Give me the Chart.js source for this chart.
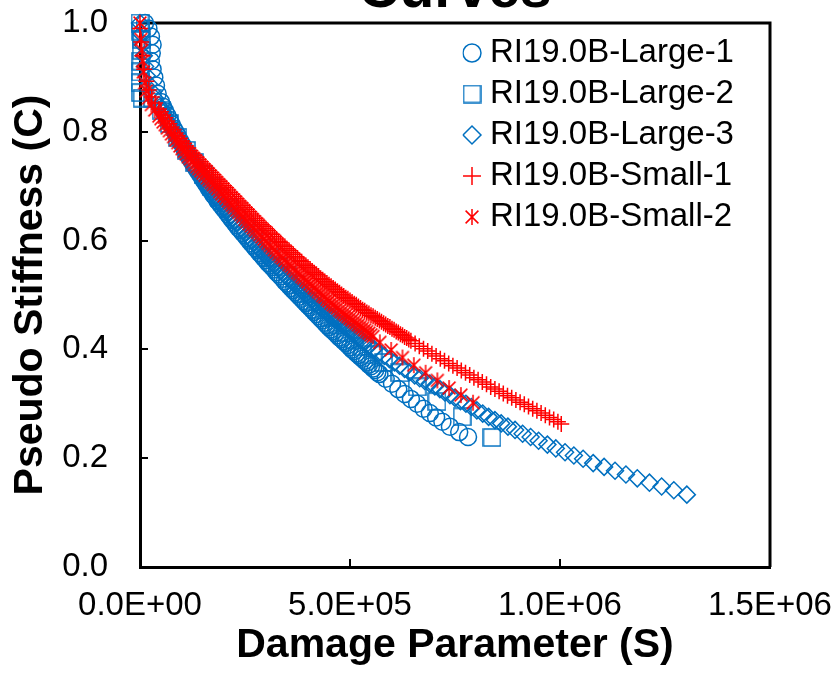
<!DOCTYPE html>
<html>
<head>
<meta charset="utf-8">
<script src="https://cdn.jsdelivr.net/npm/chart.js@4.4.0/dist/chart.umd.min.js"></script>
<style>
  html, body { margin: 0; padding: 0; background: #fff; }
  #wrap { width: 837px; height: 674px; }
</style>
</head>
<body>
<div id="wrap"><canvas id="stiffnessChart" width="837" height="674"></canvas></div>
<script>
// damage parameter S and pseudo stiffness C
const large1S = [12000, 20000, 26000, 30000, 28000, 26000, 30000, 34000, 38000, 42000,
  50000, 55000, 60000, 65000, 70000, 75000, 80000, 85000, 90000, 95000,
  100000, 105000, 110000, 115000, 120000, 125000, 130000, 135000, 140000, 145000,
  150000, 155000, 160000, 165000, 170000, 175000, 180000, 185000, 190000, 195000,
  200000, 205000, 210000, 215000, 220000, 225000, 230000, 235000, 240000, 245000,
  250000, 255000, 260000, 265000, 270000, 275000, 280000, 285000, 290000, 295000,
  300000, 305000, 310000, 315000, 320000, 325000, 330000, 335000, 340000, 345000,
  350000, 355000, 360000, 365000, 370000, 375000, 380000, 385000, 390000, 395000,
  400000, 405000, 410000, 415000, 420000, 425000, 430000, 435000, 440000, 445000,
  450000, 455000, 460000, 465000, 470000, 475000, 480000, 485000, 490000, 495000,
  500000, 505000, 510000, 515000, 520000, 525000, 530000, 535000, 540000, 545000,
  550000, 555000, 560000, 565000, 570000,
  585000, 600000, 615000, 630000, 645000, 660000, 675000, 690000, 705000, 720000, 738000, 760000, 781000]
const large1C = [1.0, 0.99, 0.975, 0.96, 0.945, 0.93, 0.915, 0.90, 0.885, 0.87,
  0.855, 0.846, 0.838, 0.83, 0.822, 0.814, 0.806, 0.799, 0.792, 0.784,
  0.777, 0.77, 0.763, 0.756, 0.75, 0.743, 0.737, 0.731, 0.725, 0.719,
  0.713, 0.707, 0.701, 0.695, 0.69, 0.684, 0.679, 0.673, 0.668, 0.663,
  0.658, 0.653, 0.648, 0.643, 0.638, 0.633, 0.628, 0.623, 0.619, 0.614,
  0.61, 0.605, 0.6, 0.595, 0.591, 0.586, 0.582, 0.577, 0.573, 0.568,
  0.564, 0.559, 0.555, 0.551, 0.547, 0.542, 0.538, 0.534, 0.53, 0.525,
  0.521, 0.517, 0.513, 0.509, 0.505, 0.501, 0.497, 0.493, 0.489, 0.485,
  0.481, 0.477, 0.473, 0.469, 0.465, 0.461, 0.457, 0.453, 0.449, 0.445,
  0.441, 0.437, 0.434, 0.43, 0.426, 0.422, 0.419, 0.415, 0.412, 0.408,
  0.404, 0.4, 0.397, 0.393, 0.39, 0.386, 0.383, 0.379, 0.376, 0.372,
  0.369, 0.365, 0.362, 0.358, 0.355,
  0.346, 0.337, 0.327, 0.318, 0.309, 0.3, 0.291, 0.283, 0.275, 0.267, 0.258, 0.248, 0.239]

const large2S = [0, 2000, 4000, 3000, 2000, 1000, 0, 1000, 5000,
  30000, 50000, 70000, 90000, 110000, 130000, 150000, 170000, 190000, 210000, 230000, 250000, 270000,
  290000, 310000, 330000, 350000, 370000, 390000, 410000, 430000, 450000, 470000, 490000, 510000, 530000,
  555000, 580000, 619000, 660000, 707000, 767000, 838000]
const large2C = [1.0, 0.985, 0.97, 0.95, 0.93, 0.91, 0.89, 0.872, 0.862,
  0.862, 0.84, 0.815, 0.79, 0.766, 0.743, 0.721, 0.7, 0.68, 0.66, 0.641, 0.622, 0.604,
  0.586, 0.569, 0.552, 0.535, 0.519, 0.503, 0.488, 0.473, 0.459, 0.445, 0.431, 0.418, 0.405,
  0.39, 0.376, 0.357, 0.331, 0.304, 0.276, 0.238]

const large3S = [0, 3000, 6000, 9000, 12000, 16000, 21000, 27000, 35000,
  45000, 50000, 55000, 60000, 65000, 70000, 75000, 80000, 85000, 90000,
  95000, 100000, 105000, 110000, 115000, 120000, 125000, 130000, 135000, 140000,
  145000, 150000, 155000, 160000, 165000, 170000, 175000, 180000, 185000, 190000,
  195000, 200000, 205000, 210000, 215000, 220000, 225000, 230000, 235000, 240000,
  245000, 250000, 255000, 260000, 265000, 270000, 275000, 280000, 285000, 290000,
  295000, 300000, 305000, 310000, 315000, 320000, 325000, 330000, 335000, 340000,
  345000, 350000, 355000, 360000, 365000, 370000, 375000, 380000, 385000, 390000,
  395000, 400000, 405000, 410000, 415000, 420000, 425000, 430000, 435000, 440000,
  445000, 450000, 455000, 460000, 465000, 470000, 475000, 480000, 485000, 490000,
  495000, 500000, 505000, 510000, 515000, 520000, 525000, 530000, 535000, 540000,
  545000,
  557000, 570000, 582000, 594000, 606000, 618000, 630000, 642000, 654000, 666000, 678000, 690000, 702000, 714000,
  726000, 738000, 750000,
  763000, 776000, 789000, 802000, 816000, 830000, 845000, 860000, 876000, 893000, 911000, 930000, 949000, 970000, 990000,
  1012000, 1033000, 1055000, 1079000, 1105000, 1131000, 1157000, 1184000, 1213000, 1242000, 1271000, 1302000]
const large3C = [1.0, 0.98, 0.96, 0.94, 0.92, 0.903, 0.888, 0.875, 0.862,
  0.849, 0.842, 0.835, 0.828, 0.82, 0.814, 0.807, 0.8, 0.793, 0.786,
  0.779, 0.773, 0.766, 0.76, 0.753, 0.747, 0.741, 0.735, 0.729, 0.724,
  0.718, 0.713, 0.707, 0.702, 0.696, 0.691, 0.686, 0.681, 0.675, 0.67,
  0.665, 0.661, 0.656, 0.651, 0.646, 0.642, 0.637, 0.633, 0.628, 0.624,
  0.619, 0.615, 0.61, 0.606, 0.601, 0.597, 0.593, 0.589, 0.584, 0.58,
  0.576, 0.572, 0.568, 0.564, 0.56, 0.556, 0.552, 0.548, 0.544, 0.541,
  0.537, 0.533, 0.529, 0.526, 0.522, 0.519, 0.515, 0.512, 0.508, 0.505,
  0.501, 0.498, 0.494, 0.491, 0.487, 0.484, 0.48, 0.477, 0.474, 0.471,
  0.467, 0.464, 0.461, 0.458, 0.455, 0.452, 0.449, 0.446, 0.443, 0.44,
  0.437, 0.434, 0.431, 0.428, 0.425, 0.422, 0.419, 0.416, 0.413, 0.41,
  0.408,
  0.401, 0.394, 0.388, 0.382, 0.376, 0.37, 0.364, 0.358, 0.352, 0.347, 0.342, 0.337, 0.332, 0.327,
  0.321, 0.316, 0.311,
  0.305, 0.3, 0.294, 0.288, 0.282, 0.276, 0.27, 0.264, 0.258, 0.252, 0.245, 0.239, 0.232, 0.225, 0.218,
  0.211, 0.205, 0.199, 0.191, 0.184, 0.177, 0.17, 0.163, 0.155, 0.148, 0.141, 0.133]

const small1S = [0, 3000, 6000, 10000, 15000, 21000, 28000, 36000,
  45000, 50000, 55000, 60000, 65000, 70000, 75000, 80000, 85000, 90000,
  95000, 100000, 105000, 110000, 115000, 120000, 125000, 130000, 135000, 140000,
  145000, 150000, 155000, 160000, 165000, 170000, 175000, 180000, 185000, 190000,
  195000, 200000, 205000, 210000, 215000, 220000, 225000, 230000, 235000, 240000,
  245000, 250000, 255000, 260000, 265000, 270000, 275000, 280000, 285000, 290000,
  295000, 300000, 305000, 310000, 315000, 320000, 325000, 330000, 335000, 340000,
  345000, 350000, 355000, 360000, 365000, 370000, 375000, 380000, 385000, 390000,
  395000, 400000, 405000, 410000, 415000, 420000, 425000, 430000, 435000, 440000,
  445000, 450000, 455000, 460000, 465000, 470000, 475000, 480000, 485000, 490000,
  495000, 500000, 505000, 510000, 515000, 520000, 525000, 530000, 535000, 540000,
  545000, 550000, 555000, 560000, 565000, 570000, 575000, 580000, 585000, 590000,
  595000, 600000, 605000, 610000, 615000, 620000, 625000, 630000, 635000, 640000,
  645000,
  655000, 665000, 675000, 685000, 695000, 705000, 715000, 725000, 735000, 745000, 755000, 765000, 775000, 785000, 795000,
  805000, 815000, 825000, 835000, 845000, 855000, 865000, 875000, 885000, 895000, 905000, 915000, 925000, 935000, 945000,
  955000, 965000, 975000, 985000, 995000, 1003000]
const small1C = [0.99, 0.965, 0.94, 0.915, 0.893, 0.877, 0.864, 0.853,
  0.842, 0.837, 0.831, 0.826, 0.82, 0.815, 0.809, 0.804, 0.798, 0.793,
  0.788, 0.783, 0.779, 0.774, 0.77, 0.765, 0.761, 0.757, 0.753, 0.749,
  0.745, 0.741, 0.737, 0.733, 0.729, 0.725, 0.721, 0.717, 0.713, 0.709,
  0.705, 0.701, 0.697, 0.693, 0.689, 0.685, 0.681, 0.677, 0.673, 0.669,
  0.665, 0.661, 0.657, 0.653, 0.649, 0.645, 0.641, 0.637, 0.633, 0.629,
  0.626, 0.622, 0.618, 0.614, 0.611, 0.607, 0.603, 0.599, 0.596, 0.592,
  0.589, 0.585, 0.582, 0.578, 0.575, 0.571, 0.568, 0.564, 0.561, 0.557,
  0.554, 0.551, 0.548, 0.544, 0.541, 0.538, 0.535, 0.531, 0.528, 0.525,
  0.522, 0.519, 0.516, 0.513, 0.51, 0.507, 0.504, 0.501, 0.498, 0.495,
  0.493, 0.49, 0.487, 0.484, 0.482, 0.479, 0.476, 0.473, 0.471, 0.468,
  0.466, 0.463, 0.461, 0.458, 0.456, 0.453, 0.451, 0.448, 0.446, 0.443,
  0.441, 0.438, 0.436, 0.433, 0.431, 0.428, 0.426, 0.423, 0.421, 0.418,
  0.416,
  0.411, 0.406, 0.401, 0.397, 0.392, 0.388, 0.383, 0.379, 0.374, 0.37, 0.366, 0.361, 0.357, 0.353, 0.348,
  0.344, 0.34, 0.336, 0.331, 0.327, 0.323, 0.319, 0.315, 0.311, 0.307, 0.303, 0.299, 0.295, 0.291, 0.287,
  0.283, 0.279, 0.275, 0.271, 0.267, 0.263]

const small2S = [0, 2000, 4000, 6000, 8000, 11000, 15000, 20000, 27000, 35000,
  45000, 50000, 55000, 60000, 65000, 70000, 75000, 80000, 85000, 90000,
  95000, 100000, 105000, 110000, 115000, 120000, 125000, 130000, 135000, 140000,
  145000, 150000, 155000, 160000, 165000, 170000, 175000, 180000, 185000, 190000,
  195000, 200000, 205000, 210000, 215000, 220000, 225000, 230000, 235000, 240000,
  245000, 250000, 255000, 260000, 265000, 270000, 275000, 280000, 285000, 290000,
  295000, 300000, 305000, 310000, 315000, 320000, 325000, 330000, 335000, 340000,
  345000, 350000, 355000, 360000, 365000, 370000, 375000, 380000, 385000, 390000,
  395000, 400000, 405000, 410000, 415000, 420000, 425000, 430000, 435000, 440000,
  445000, 450000, 455000, 460000, 465000, 470000, 475000, 480000, 485000, 490000,
  495000, 500000, 505000, 510000, 515000, 520000, 525000, 530000, 535000, 540000,
  545000, 550000, 555000,
  571000, 598000, 625000, 652000, 680000, 708000, 736000, 764000, 793000]
const small2C = [1.0, 0.97, 0.95, 0.93, 0.91, 0.89, 0.875, 0.862, 0.85, 0.84,
  0.829, 0.824, 0.818, 0.813, 0.807, 0.802, 0.796, 0.791, 0.785, 0.78,
  0.774, 0.769, 0.764, 0.759, 0.754, 0.75, 0.745, 0.74, 0.736, 0.732,
  0.728, 0.724, 0.72, 0.715, 0.711, 0.707, 0.703, 0.699, 0.695, 0.69,
  0.686, 0.682, 0.678, 0.673, 0.669, 0.665, 0.661, 0.656, 0.652, 0.648,
  0.644, 0.639, 0.635, 0.631, 0.627, 0.623, 0.619, 0.615, 0.611, 0.607,
  0.603, 0.599, 0.595, 0.591, 0.587, 0.583, 0.579, 0.575, 0.571, 0.568,
  0.564, 0.56, 0.556, 0.553, 0.549, 0.545, 0.541, 0.538, 0.534, 0.531,
  0.527, 0.524, 0.52, 0.517, 0.513, 0.51, 0.506, 0.503, 0.499, 0.496,
  0.492, 0.489, 0.485, 0.482, 0.479, 0.476, 0.472, 0.469, 0.466, 0.463,
  0.46, 0.457, 0.454, 0.451, 0.448, 0.445, 0.442, 0.439, 0.436, 0.433,
  0.43, 0.427, 0.424,
  0.413, 0.399, 0.385, 0.371, 0.357, 0.343, 0.329, 0.316, 0.302]

const seriesNames = ['RI19.0B-Large-1', 'RI19.0B-Large-2', 'RI19.0B-Large-3', 'RI19.0B-Small-1', 'RI19.0B-Small-2']
const xTicks = [0, 500000, 1000000, 1500000]
const yTicks = [0, 0.2, 0.4, 0.6, 0.8, 1.0]

const BLUE = '#0070C0'
const RED = '#FF0000'

Chart.defaults.font.family = "'Liberation Sans', Arial, sans-serif"
Chart.defaults.color = '#000'

const toPoints = (xs, ys) => xs.map((x, i) => ({ x: x, y: ys[i] }))

// excel style "5.0E+05"
function sciLabel(v) {
  const parts = Number(v).toExponential(1).split('e')
  const e = parseInt(parts[1], 10)
  return parts[0] + 'E' + (e < 0 ? '-' : '+') + String(Math.abs(e)).padStart(2, '0')
}

// asterisk marker (x with a vertical bar)
function makeAsterisk(size, color, lw) {
  const c = document.createElement('canvas')
  c.width = size
  c.height = size
  const g = c.getContext('2d')
  const m = size / 2
  const r = m - 1
  const d = r * 0.8
  g.strokeStyle = color
  g.lineWidth = lw
  g.beginPath()
  g.moveTo(m, m - r); g.lineTo(m, m + r)
  g.moveTo(m - d, m - d); g.lineTo(m + d, m + d)
  g.moveTo(m + d, m - d); g.lineTo(m - d, m + d)
  g.stroke()
  return c
}

// open square, same size in plot and legend
function makeSquare(size, color, lw) {
  const c = document.createElement('canvas')
  c.width = size + 2
  c.height = size + 2
  const g = c.getContext('2d')
  g.strokeStyle = color
  g.lineWidth = lw
  g.strokeRect(1, 1, size, size)
  return c
}

const frameLines = {
  id: 'frameLines',
  beforeDatasetsDraw(chart) {
    const { ctx, chartArea: a } = chart
    ctx.save()
    ctx.strokeStyle = '#000'
    ctx.lineWidth = 3
    ctx.beginPath()
    ctx.moveTo(a.left, a.top)
    ctx.lineTo(a.right, a.top)
    ctx.lineTo(a.right, a.bottom)
    ctx.stroke()
    ctx.restore()
  }
}

// the title sits mostly above the picture, only its lower part shows
const cutTitle = {
  id: 'cutTitle',
  afterDraw(chart) {
    const { ctx, chartArea: a } = chart
    ctx.save()
    ctx.font = "bold 57px 'Liberation Sans', Arial, sans-serif"
    ctx.fillStyle = '#000'
    ctx.textAlign = 'center'
    ctx.textBaseline = 'alphabetic'
    ctx.fillText('Curves', (a.left + a.right) / 2, 7)
    ctx.restore()
  }
}

// legend lives inside the plot, top right
const moveLegend = {
  id: 'moveLegend',
  afterLayout(chart) {
    const lg = chart.legend
    if (!lg) return
    const pad = lg.options.labels.padding
    lg.left = 470.5 - pad
    lg.right = lg.left + lg.width
    lg.top = 28.5
    lg.bottom = chart.chartArea.bottom
  }
}

const axisGrid = { drawOnChartArea: false, drawTicks: true, tickLength: -8, color: '#000', lineWidth: 2 }
const axisBorder = { display: true, color: '#000', width: 3 }

function series(i, data, style, radius, color, order) {
  return {
    label: seriesNames[i],
    data: data,
    showLine: false,
    pointStyle: style,
    pointRadius: radius,
    pointBorderColor: color,
    borderColor: color,
    pointBackgroundColor: 'transparent',
    backgroundColor: 'transparent',
    pointBorderWidth: 1.5,
    borderWidth: 1.5,
    clip: false,
    order: order
  }
}

const ctx = document.getElementById('stiffnessChart').getContext('2d')

new Chart(ctx, {
  type: 'scatter',
  data: {
    datasets: [
      series(0, toPoints(large1S, large1C), 'circle', 8.5, BLUE, 5),
      series(1, toPoints(large2S, large2C), makeSquare(17, BLUE, 1.5), 8.5, BLUE, 4),
      series(2, toPoints(large3S, large3C), 'rectRot', 8.5, BLUE, 3),
      series(3, toPoints(small1S, small1C), 'cross', 8, RED, 2),
      series(4, toPoints(small2S, small2C), makeAsterisk(18, RED, 1.5), 8, RED, 1)
    ]
  },
  options: {
    responsive: false,
    animation: false,
    events: [],
    layout: { padding: { top: 23, right: 67, left: 0, bottom: 0 } },
    plugins: {
      title: { display: false },
      tooltip: { enabled: false },
      legend: {
        position: 'chartArea',
        align: 'start',
        labels: {
          usePointStyle: true,
          boxWidth: 3,
          boxHeight: 12.7,
          padding: 8,
          color: '#000',
          font: { size: 33 },
          sort: (a, b) => a.datasetIndex - b.datasetIndex
        }
      }
    },
    scales: {
      x: {
        type: 'linear',
        min: xTicks[0],
        max: xTicks[xTicks.length - 1],
        afterBuildTicks: s => { s.ticks = xTicks.map(v => ({ value: v })) },
        afterFit: s => { s.height = 107; s.paddingLeft = 0; s.paddingRight = 0 },
        ticks: { callback: sciLabel, font: { size: 33 }, color: '#000', padding: 27, maxRotation: 0, autoSkip: false },
        grid: axisGrid,
        border: axisBorder,
        title: {
          display: true,
          text: 'Damage Parameter (S)',
          color: '#000',
          font: { size: 41, weight: 'bold' },
          padding: { top: 0, bottom: 4 }
        }
      },
      y: {
        type: 'linear',
        min: yTicks[0],
        max: yTicks[yTicks.length - 1],
        afterBuildTicks: s => { s.ticks = yTicks.map(v => ({ value: v })) },
        afterFit: s => { s.width = 140; s.paddingTop = 0; s.paddingBottom = 0 },
        ticks: { callback: v => Number(v).toFixed(1), font: { size: 33 }, color: '#000', padding: 40 },
        grid: axisGrid,
        border: axisBorder,
        title: {
          display: true,
          text: 'Pseudo Stiffness (C)',
          color: '#000',
          font: { size: 41, weight: 'bold' },
          padding: { top: 6, bottom: 0 }
        }
      }
    }
  },
  plugins: [frameLines, cutTitle, moveLegend]
})
</script>
</body>
</html>
